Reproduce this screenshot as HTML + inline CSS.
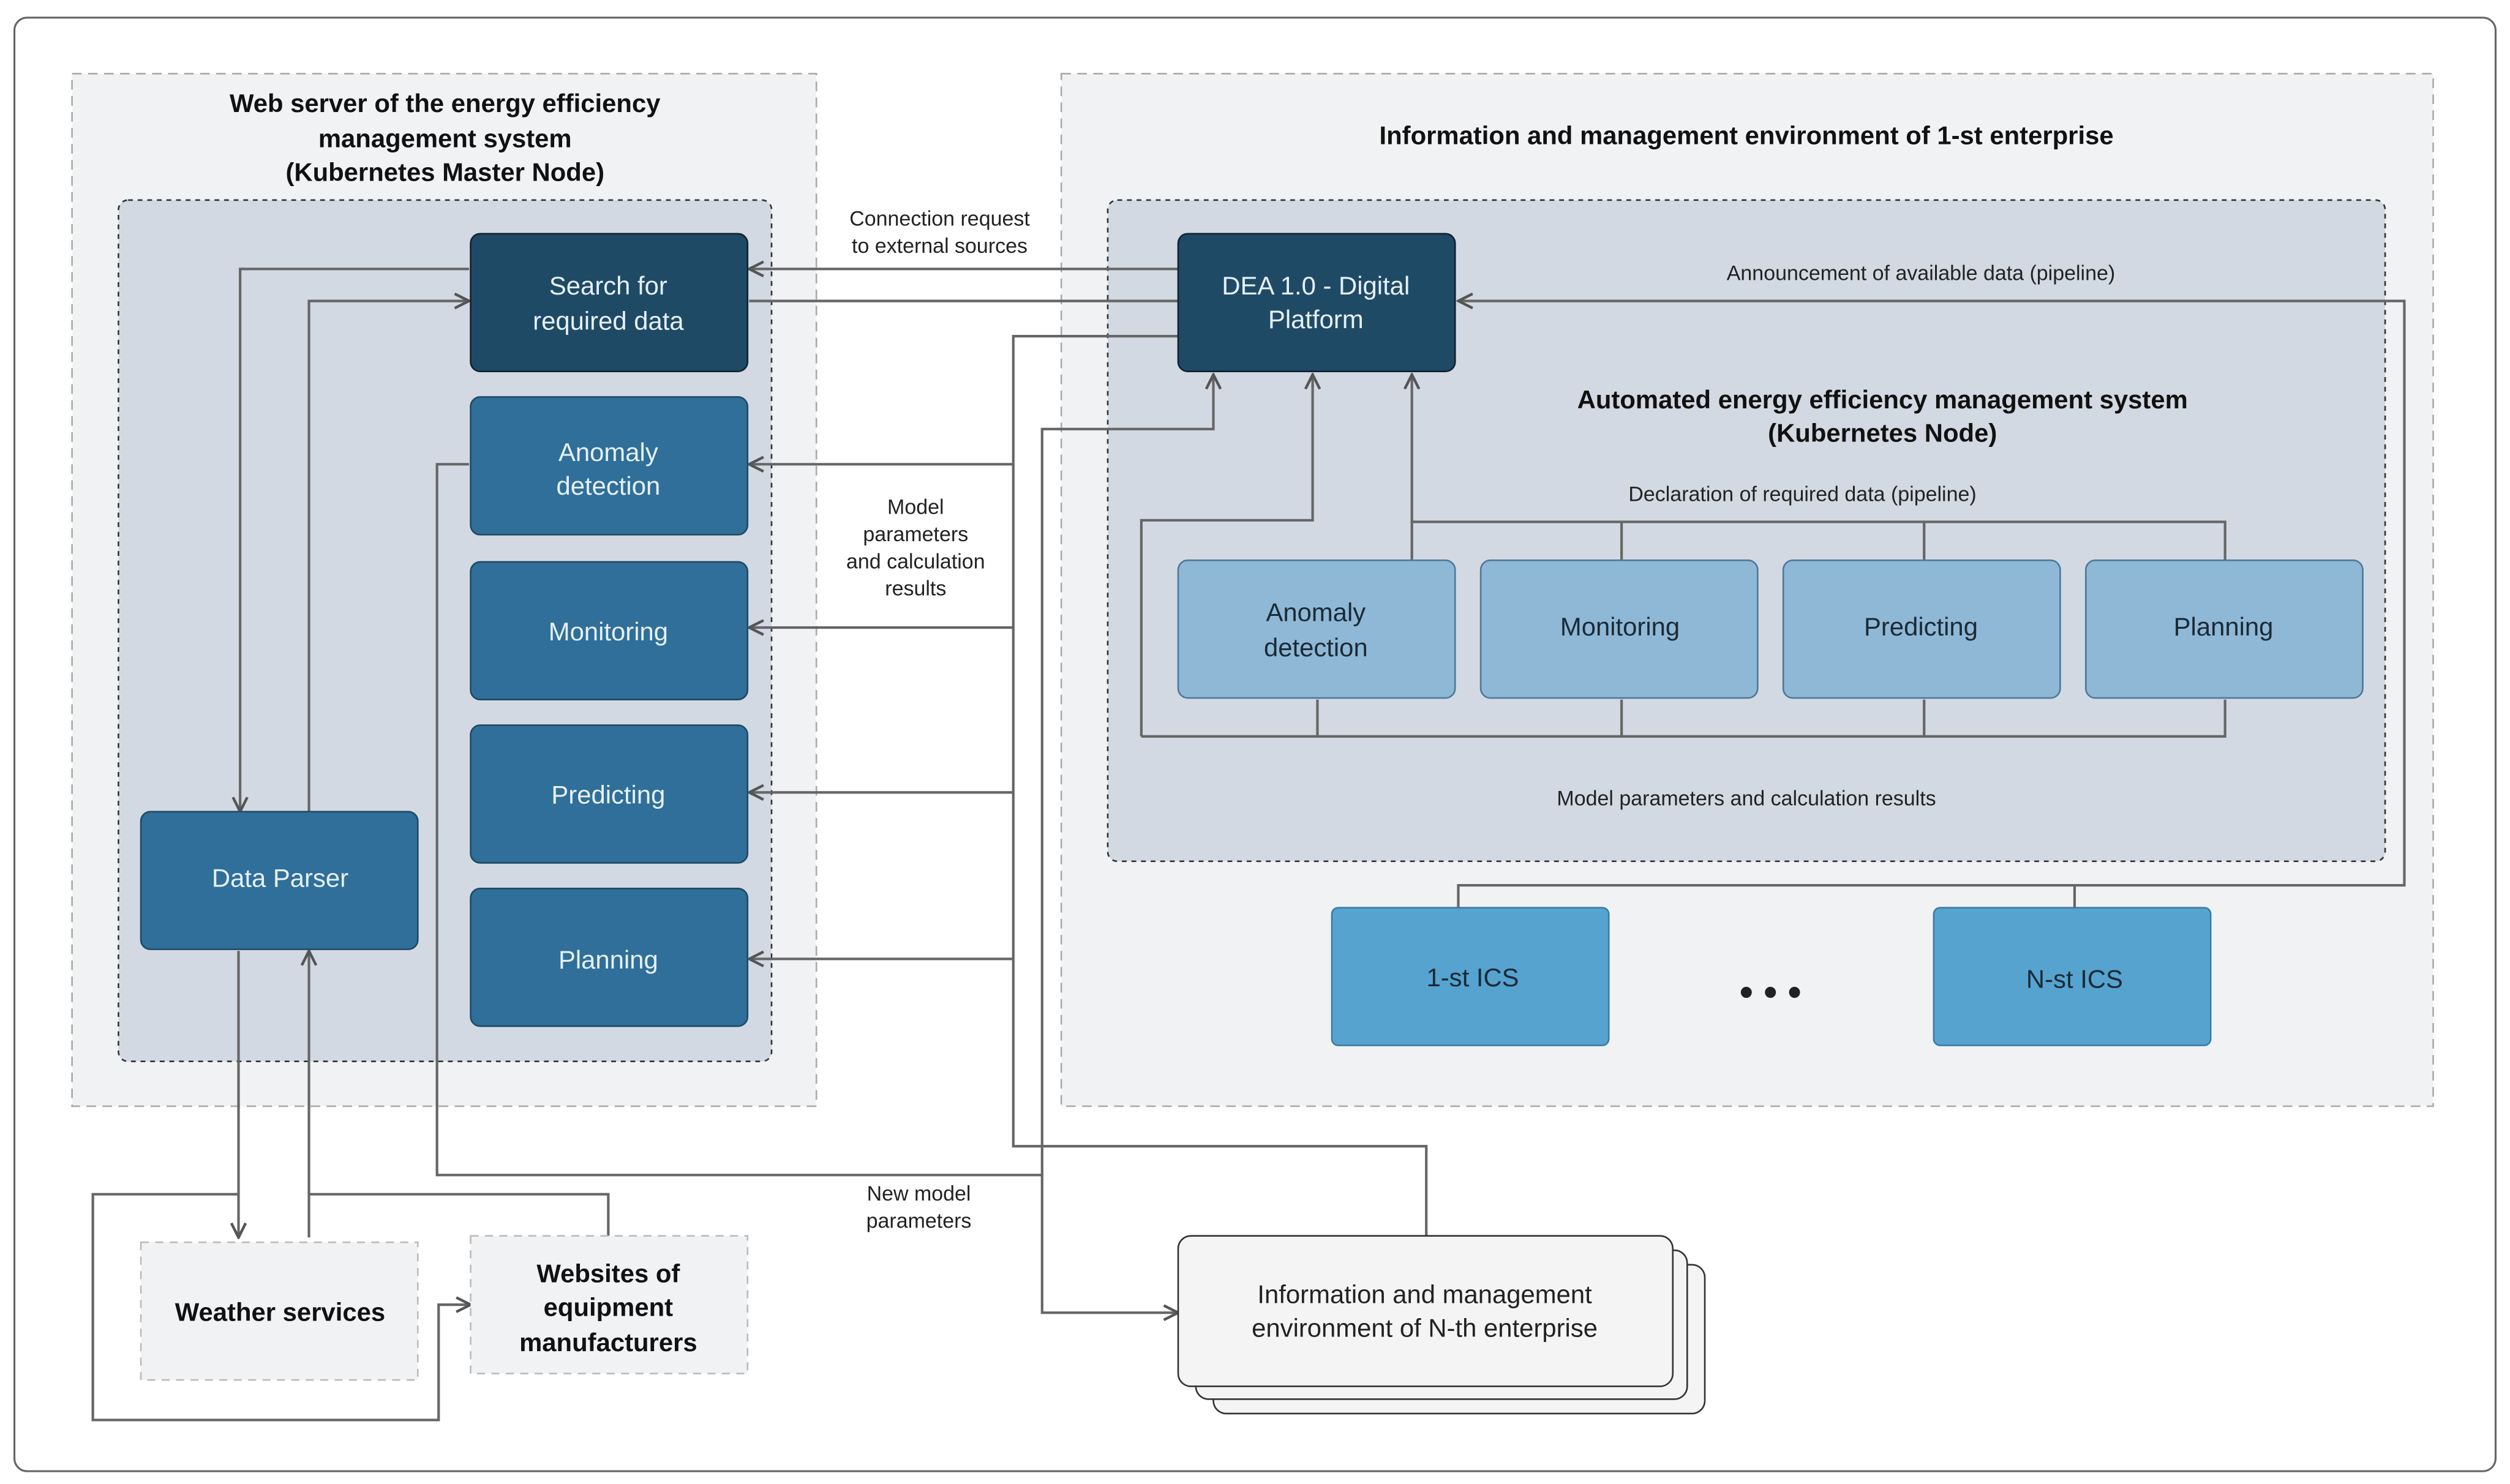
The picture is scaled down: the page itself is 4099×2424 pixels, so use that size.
<!DOCTYPE html>
<html><head><meta charset="utf-8"><style>
html,body{margin:0;padding:0;background:#fff;}
svg{display:block;}
text{font-family:"Liberation Sans",sans-serif;}
</style></head><body>
<svg width="4099" height="2424" viewBox="0 0 1568 927" preserveAspectRatio="none" xmlns="http://www.w3.org/2000/svg">
<defs>
<marker id="a" viewBox="0 0 10 10" refX="9" refY="5" markerWidth="7" markerHeight="7" orient="auto"><path d="M1 1 L9 5 L1 9" fill="none" stroke="#555" stroke-width="1.5"/></marker>
</defs>
<rect x="0" y="0" width="1568" height="927" fill="#fff"/>
<rect x="9" y="11" width="1550" height="908" rx="8" fill="#fff" stroke="#666" stroke-width="1.2"/>
<!-- outer containers -->
<rect x="45" y="46" width="465" height="645" fill="#f1f2f4" stroke="#aaa" stroke-dasharray="6,4"/>
<rect x="663" y="46" width="857" height="645" fill="#f1f2f4" stroke="#aaa" stroke-dasharray="6,4"/>
<rect x="74" y="125" width="408" height="538" rx="6" fill="#d3d9e2" stroke="#333" stroke-dasharray="3,3"/>
<rect x="692" y="125" width="798" height="413" rx="6" fill="#d3d9e2" stroke="#333" stroke-dasharray="3,3"/>
<g font-weight="bold" font-size="16" fill="#111" text-anchor="middle">
<text x="278" y="70">Web server of the energy efficiency</text>
<text x="278" y="92">management system</text>
<text x="278" y="113">(Kubernetes Master Node)</text>
<text x="1091" y="90">Information and management environment of 1-st enterprise</text>
<text x="1176" y="255">Automated energy efficiency management system</text>
<text x="1176" y="276">(Kubernetes Node)</text>
</g>
<!-- connectors -->
<g fill="none" stroke="#666" stroke-width="1.6">
<path d="M736 168 H468" marker-end="url(#a)"/>
<path d="M468 188 H736" />
<path d="M293 168 H150 V507" marker-end="url(#a)"/>
<path d="M193 507 V188 H293" marker-end="url(#a)"/>
<path d="M736 210 H633 V716 H891 V772"/>
<path d="M633 290 H468" marker-end="url(#a)"/>
<path d="M633 392 H468" marker-end="url(#a)"/>
<path d="M633 495 H468" marker-end="url(#a)"/>
<path d="M633 599 H468" marker-end="url(#a)"/>
<path d="M293 290 H273 V734 H651 V268 H758 V234" marker-end="url(#a)"/>
<path d="M651 734 V820 H736" marker-end="url(#a)"/>
<path d="M713 460 V325 H820 V234" marker-end="url(#a)"/>
<path d="M882 350 V234" marker-end="url(#a)"/>
<path d="M882 326 H1390 V350 M1013 326 V350 M1202 326 V350"/>
<path d="M713 460 H1390 V437 M823 437 V460 M1013 437 V460 M1202 437 V460"/>
<path d="M911 567 V553 H1502 V188 H911" marker-end="url(#a)"/>
<path d="M1296 553 V567"/>
<path d="M149 594 V773" marker-end="url(#a)"/>
<path d="M193 773 V594" marker-end="url(#a)"/>
<path d="M193 746 H380 V772"/>
<path d="M149 746 H58 V887 H274 V815 H294" marker-end="url(#a)"/>
</g>
<!-- left nodes -->
<rect x="294" y="146" width="173" height="86" rx="6" fill="#1f4a66" stroke="#123" />
<rect x="294" y="248" width="173" height="86" rx="6" fill="#2f6f99" stroke="#1f4a66"/>
<rect x="294" y="351" width="173" height="86" rx="6" fill="#2f6f99" stroke="#1f4a66"/>
<rect x="294" y="453" width="173" height="86" rx="6" fill="#2f6f99" stroke="#1f4a66"/>
<rect x="294" y="555" width="173" height="86" rx="6" fill="#2f6f99" stroke="#1f4a66"/>
<rect x="88" y="507" width="173" height="86" rx="6" fill="#2f6f99" stroke="#1f4a66"/>
<rect x="736" y="146" width="173" height="86" rx="6" fill="#1f4a66" stroke="#123"/>
<g font-size="16" fill="#e6f0f7" text-anchor="middle">
<text x="380" y="184">Search for</text><text x="380" y="206">required data</text>
<text x="380" y="288">Anomaly</text><text x="380" y="309">detection</text>
<text x="380" y="400">Monitoring</text>
<text x="380" y="502">Predicting</text>
<text x="380" y="605">Planning</text>
<text x="175" y="554">Data Parser</text>
<text x="822" y="184">DEA 1.0 - Digital</text><text x="822" y="205">Platform</text>
</g>
<!-- right light nodes -->
<g fill="#8fb8d6" stroke="#4a7a9a">
<rect x="736" y="350" width="173" height="86" rx="6"/>
<rect x="925" y="350" width="173" height="86" rx="6"/>
<rect x="1114" y="350" width="173" height="86" rx="6"/>
<rect x="1303" y="350" width="173" height="86" rx="6"/>
</g>
<g fill="#56a3cf" stroke="#3a7ca8">
<rect x="832" y="567" width="173" height="86" rx="4"/>
<rect x="1208" y="567" width="173" height="86" rx="4"/>
</g>
<g font-size="16" fill="#1a2a36" text-anchor="middle">
<text x="822" y="388">Anomaly</text><text x="822" y="410">detection</text>
<text x="1012" y="397">Monitoring</text>
<text x="1200" y="397">Predicting</text>
<text x="1389" y="397">Planning</text>
<text x="920" y="616">1-st ICS</text>
<text x="1296" y="617">N-st ICS</text>
</g>
<text x="1106" y="628" font-size="24" font-weight="bold" text-anchor="middle" fill="#222">• • •</text>
<!-- bottom -->
<rect x="88" y="776" width="173" height="86" fill="#f1f2f4" stroke="#bbb" stroke-dasharray="5,4"/>
<rect x="294" y="772" width="173" height="86" fill="#f1f2f4" stroke="#bbb" stroke-dasharray="5,4"/>
<g font-size="16" font-weight="bold" fill="#111" text-anchor="middle">
<text x="175" y="825">Weather services</text>
<text x="380" y="801">Websites of</text><text x="380" y="822">equipment</text><text x="380" y="844">manufacturers</text>
</g>
<rect x="758" y="790" width="307" height="93" rx="8" fill="#f4f4f4" stroke="#333"/>
<rect x="747" y="781" width="307" height="93" rx="8" fill="#f4f4f4" stroke="#333"/>
<rect x="736" y="772" width="309" height="94" rx="8" fill="#f4f4f4" stroke="#333"/>
<g font-size="16" fill="#222" text-anchor="middle">
<text x="890" y="814">Information and management</text>
<text x="890" y="835">environment of N-th enterprise</text>
</g>
<!-- labels -->
<g font-size="13" fill="#222" text-anchor="middle">
<text x="587" y="141">Connection request</text><text x="587" y="158">to external sources</text>
<text x="572" y="321">Model</text><text x="572" y="338">parameters</text><text x="572" y="355">and calculation</text><text x="572" y="372">results</text>
<text x="1200" y="175">Announcement of available data (pipeline)</text>
<text x="1126" y="313">Declaration of required data (pipeline)</text>
<text x="1091" y="503">Model parameters and calculation results</text>
<text x="574" y="750">New model</text><text x="574" y="767">parameters</text>
</g>
</svg>
</body></html>
